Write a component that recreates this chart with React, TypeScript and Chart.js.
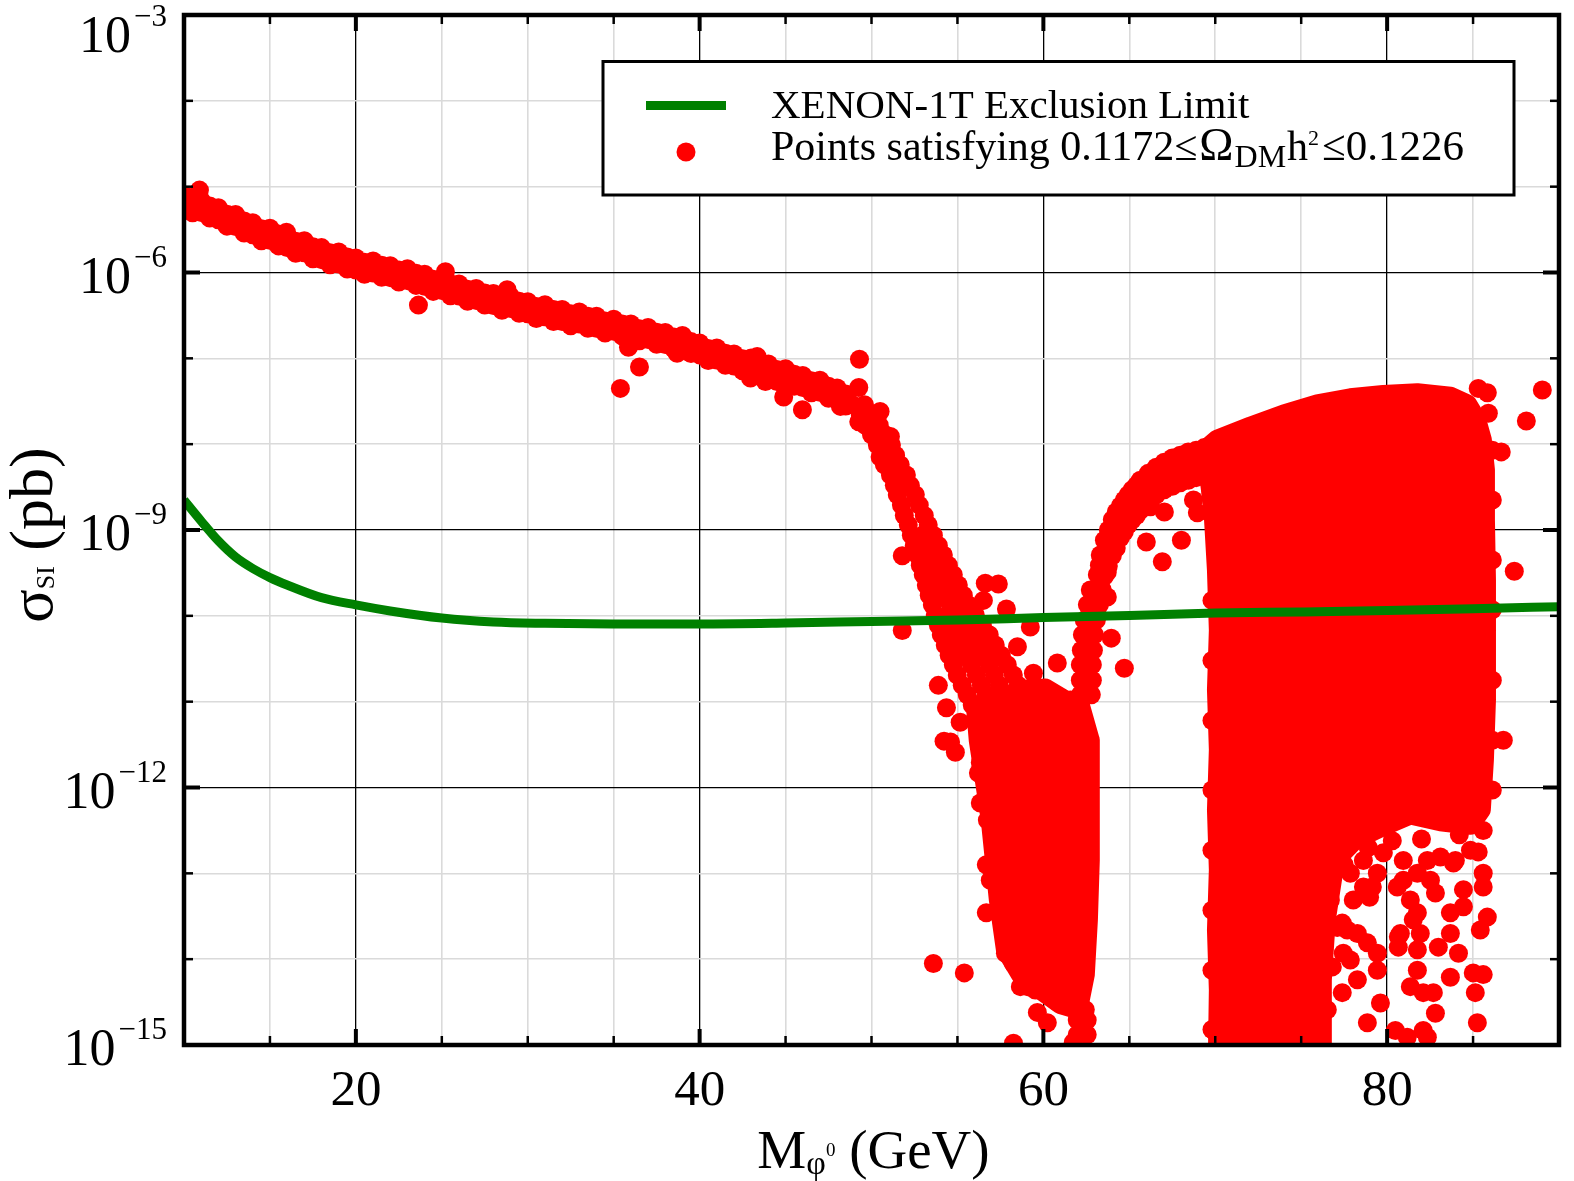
import React, { useEffect, useRef } from 'react';
import { Chart, registerables } from 'chart.js';

Chart.register(...registerables);

const FONT = "'Liberation Serif', 'Times New Roman', serif";

// ---------- axis ticks ----------
const xTickValues = [10, 15, 20, 25, 30, 35, 40, 45, 50, 55, 60, 65, 70, 75, 80, 85, 90];
const xLabelValues = [20, 40, 60, 80];
const yTickExponents = [-15, -14, -13, -12, -11, -10, -9, -8, -7, -6, -5, -4, -3];
const yLabelExponents = [-15, -12, -9, -6, -3];

// ---------- XENON-1T limit (mass GeV, sigma pb) ----------
const xenonMass = [10, 11, 12, 13, 14, 15, 16, 18, 20, 22, 25, 28, 31, 35, 40, 45, 50, 55, 60, 65, 70, 75, 80, 85, 90];
const xenonSigma = [2.23e-9, 1.27e-9, 7.45e-10, 4.84e-10, 3.56e-10, 2.79e-10, 2.29e-10, 1.63e-10, 1.34e-10, 1.14e-10, 9.42e-11, 8.47e-11, 8.18e-11, 8.04e-11, 8.04e-11, 8.24e-11, 8.59e-11, 8.93e-11, 9.55e-11, 1.01e-10, 1.08e-10, 1.11e-10, 1.15e-10, 1.21e-10, 1.28e-10];

// ---------- scan points: [mass GeV, log10(sigma_SI / pb)] ----------
const descendingBand: [number, number][] = [
  [10.0, -5.1], [10.0, -5.24], [10.5, -5.165], [10.5, -5.305], [11.0, -5.16], [11.0, -5.3], [11.5, -5.225], [11.5, -5.365],
  [12.0, -5.245], [12.0, -5.385], [12.5, -5.32], [12.5, -5.46], [13.0, -5.325], [13.0, -5.465], [13.5, -5.4], [13.5, -5.54],
  [14.0, -5.42], [14.0, -5.56], [14.5, -5.49], [14.5, -5.63], [15.0, -5.485], [15.0, -5.625], [15.5, -5.55], [15.5, -5.69],
  [16.0, -5.57], [16.0, -5.71], [16.5, -5.635], [16.5, -5.775], [17.0, -5.63], [17.0, -5.77], [17.5, -5.7], [17.5, -5.84],
  [18.0, -5.71], [18.0, -5.85], [18.5, -5.77], [18.5, -5.91], [19.0, -5.76], [19.0, -5.9], [19.5, -5.82], [19.5, -5.96],
  [20.0, -5.83], [20.0, -5.97], [20.5, -5.88], [20.5, -6.02], [21.0, -5.865], [21.0, -6.005], [21.5, -5.915], [21.5, -6.055],
  [22.0, -5.92], [22.0, -6.06], [22.5, -5.97], [22.5, -6.11], [23.0, -5.955], [23.0, -6.095], [23.5, -6.01], [23.5, -6.15],
  [24.0, -6.02], [24.0, -6.16], [24.5, -6.08], [24.5, -6.22], [25.0, -6.07], [25.0, -6.21], [25.5, -6.13], [25.5, -6.27],
  [26.0, -6.135], [26.0, -6.275], [26.5, -6.195], [26.5, -6.335], [27.0, -6.185], [27.0, -6.325], [27.5, -6.24], [27.5, -6.38],
  [28.0, -6.245], [28.0, -6.385], [28.5, -6.3], [28.5, -6.44], [29.0, -6.28], [29.0, -6.42], [29.5, -6.335], [29.5, -6.475],
  [30.0, -6.34], [30.0, -6.48], [30.5, -6.395], [30.5, -6.535], [31.0, -6.375], [31.0, -6.515], [31.5, -6.43], [31.5, -6.57],
  [32.0, -6.43], [32.0, -6.57], [32.5, -6.48], [32.5, -6.62], [33.0, -6.46], [33.0, -6.6], [33.5, -6.51], [33.5, -6.65],
  [34.0, -6.51], [34.0, -6.65], [34.5, -6.565], [34.5, -6.705], [35.0, -6.545], [35.0, -6.685], [35.5, -6.6], [35.5, -6.74],
  [36.0, -6.6], [36.0, -6.74], [36.5, -6.655], [36.5, -6.795], [37.0, -6.64], [37.0, -6.78], [37.5, -6.695], [37.5, -6.835],
  [38.0, -6.7], [38.0, -6.84], [38.5, -6.75], [38.5, -6.89], [39.0, -6.735], [39.0, -6.875], [39.5, -6.805], [39.5, -6.945],
  [40.0, -6.82], [40.0, -6.96], [40.5, -6.885], [40.5, -7.025], [41.0, -6.88], [41.0, -7.02], [41.5, -6.94], [41.5, -7.08],
  [42.0, -6.95], [42.0, -7.09], [42.5, -7.005], [42.5, -7.145], [43.0, -6.995], [43.0, -7.135], [43.5, -7.055], [43.5, -7.195],
  [44.0, -7.065], [44.0, -7.205], [44.5, -7.13], [44.5, -7.27], [45.0, -7.12], [45.0, -7.26], [45.5, -7.185], [45.5, -7.325],
  [46.0, -7.2], [46.0, -7.34], [46.5, -7.26], [46.5, -7.4], [47.0, -7.255], [47.0, -7.395], [47.5, -7.325], [47.5, -7.465],
  [48.0, -7.345], [48.0, -7.485], [48.5, -7.415], [48.5, -7.555],
];

const bandOutliers: [number, number][] = [
  [10.9, -5.04], [15.96, -5.53], [23.64, -6.38], [25.21, -5.99], [28.8, -6.2], [35.39, -7.35], [36.5, -7.1], [35.86, -6.87],
  [38.69, -6.94], [42.96, -7.23], [43.35, -6.98], [43.83, -7.27], [44.89, -7.45], [45.98, -7.6], [48.19, -7.56], [49.3, -7.01],
  [49.26, -7.34], [49.26, -7.74], [50.5, -7.62], [50.5, -8.15], [51.1, -7.91],
];

const steepBand: [number, number][] = [
  [48.89, -7.54], [49.59, -7.54], [49.35, -7.66], [50.05, -7.66], [49.64, -7.78], [50.45, -7.78], [50.0, -7.89], [50.8, -7.89],
  [50.34, -8.01], [51.16, -8.01], [50.57, -8.13], [51.4, -8.13], [50.75, -8.24], [51.67, -8.24], [51.1, -8.36], [52.03, -8.36],
  [51.33, -8.48], [52.26, -8.48], [51.5, -8.59], [52.55, -8.59], [51.74, -8.71], [52.78, -8.71], [51.91, -8.83], [53.07, -8.83],
  [52.14, -8.94], [53.3, -8.94],
  [52.32, -9.06], [52.96, -9.06], [53.6, -9.06], [52.49, -9.18], [53.19, -9.18], [53.89, -9.18],
  [52.67, -9.29], [53.42, -9.29], [54.18, -9.29], [52.84, -9.41], [53.66, -9.41], [54.47, -9.41],
  [53.01, -9.52], [53.89, -9.52], [54.76, -9.52], [53.19, -9.64], [54.12, -9.64], [55.05, -9.64],
  [53.36, -9.76], [54.35, -9.76], [55.34, -9.76], [53.54, -9.87], [54.58, -9.87], [55.63, -9.87],
  [53.71, -9.99], [54.47, -9.99], [55.28, -9.99], [56.04, -9.99],
  [53.89, -10.11], [54.76, -10.11], [55.57, -10.11], [56.45, -10.11],
  [54.06, -10.22], [54.99, -10.22], [55.92, -10.22], [56.85, -10.22],
  [54.29, -10.34], [55.28, -10.34], [56.21, -10.34], [57.2, -10.34],
  [54.52, -10.46], [55.51, -10.46], [56.56, -10.46], [57.55, -10.46],
  [54.76, -10.57], [55.81, -10.57], [56.85, -10.57], [57.9, -10.57],
  [54.99, -10.69], [56.1, -10.69], [57.15, -10.69], [58.25, -10.69],
  [55.28, -10.81], [56.39, -10.81], [57.44, -10.81], [58.54, -10.81],
  [55.57, -10.92], [56.68, -10.92], [57.73, -10.92], [58.83, -10.92],
  [55.86, -11.04], [56.97, -11.04], [58.02, -11.04], [59.13, -11.04],
];

const clusterDots: [number, number][] = [
  [51.79, -9.3], [51.79, -10.17], [56.62, -9.62], [57.38, -9.63], [56.51, -9.82], [57.85, -9.92], [59.24, -10.13], [58.49, -10.36],
  [60.81, -10.55], [61.57, -10.98], [53.89, -10.81], [54.36, -11.07], [55.16, -11.24], [59.42, -10.67], [60.4, -10.98], [61.16, -11.13],
  [54.22, -11.46], [54.6, -11.47], [54.88, -11.59], [56.22, -11.83], [56.33, -12.18], [56.91, -12.41], [56.68, -12.9], [56.68, -13.46],
  [57.79, -13.93], [53.6, -14.05], [55.4, -14.16], [58.26, -14.98], [59.65, -14.62], [60.23, -14.74], [61.74, -14.97], [62.32, -14.79],
  [62.44, -14.59], [60.81, -14.5], [61.86, -14.5], [58.66, -14.32], [59.53, -14.36], [56.33, -11.71], [56.74, -12.38], [56.91, -13.08],
  [57.5, -13.28], [57.9, -13.66], [58.26, -14.05], [59.07, -14.32],
];

// outline of the dense cluster at 56-63 GeV
const lowMassCluster: [number, number][] = [
  [56.04, -11.04], [57.5, -10.98], [58.66, -10.86], [60.11, -10.84], [61.28, -10.98], [62.15, -11.04], [62.73, -11.45],
  [62.73, -12.15], [62.73, -12.85], [62.62, -13.54], [62.44, -14.18], [62.03, -14.59], [60.99, -14.53], [59.82, -14.36],
  [58.66, -14.18], [57.79, -13.89], [57.38, -13.31], [57.15, -12.85], [56.91, -12.38], [56.56, -11.91], [56.21, -11.45],
];

const risingBranch: [number, number][] = [
  [61.97, -14.71], [62.55, -14.71], [61.97, -14.88], [62.55, -14.88],
  [62.73, -9.7], [63.43, -9.7], [62.56, -9.87], [63.26, -9.87], [62.38, -10.05], [63.08, -10.05], [62.27, -10.22], [62.97, -10.22],
  [62.21, -10.4], [62.91, -10.4], [62.15, -10.57], [62.85, -10.57], [62.15, -10.75], [62.85, -10.75], [62.15, -10.92], [62.79, -10.92],
  [62.97, -9.78], [62.79, -9.96], [62.68, -10.13], [62.56, -10.31], [62.5, -10.48], [62.5, -10.66], [62.5, -10.83],
  [63.14, -9.52], [63.26, -9.41],
  [63.72, -9.49], [63.72, -9.78],
  [63.31, -9.29], [63.31, -9.47], [63.31, -9.64], [63.78, -9.0], [63.78, -9.21], [63.78, -9.42],
  [63.55, -9.12], [63.55, -9.33], [63.55, -9.54], [64.01, -8.88], [64.01, -9.09], [64.01, -9.3],
  [64.24, -8.79], [64.24, -9.0], [64.24, -9.21], [64.71, -8.65], [64.71, -8.84], [64.71, -9.02],
  [64.48, -8.72], [64.48, -8.91], [64.48, -9.09], [64.94, -8.59], [64.94, -8.77], [64.94, -8.94],
  [65.17, -8.53], [65.17, -8.71], [65.17, -8.88], [65.64, -8.42], [65.64, -8.59], [65.64, -8.77],
  [65.41, -8.48], [65.41, -8.65], [65.41, -8.83],
  [66.1, -8.34], [66.1, -8.51], [66.1, -8.69], [66.57, -8.27], [66.57, -8.43], [66.57, -8.59],
  [67.03, -8.21], [67.03, -8.37], [67.03, -8.53], [67.5, -8.16], [67.5, -8.32], [67.5, -8.49],
  [67.96, -8.13], [67.96, -8.29], [67.96, -8.45], [68.43, -8.09], [68.43, -8.25], [68.43, -8.42],
  [68.89, -8.07], [68.89, -8.23], [68.89, -8.39], [69.36, -8.04], [69.36, -8.21], [69.36, -8.37],
];

const branchOutliers: [number, number][] = [
  [63.95, -10.26], [64.71, -10.61], [65.99, -9.14], [66.92, -9.37], [67.04, -8.79], [68.03, -9.12], [66.23, -8.73], [68.73, -8.65], [68.96, -8.8],
];

// outline of the dense plateau at 70-86 GeV
const plateauOutline: [number, number][] = [
  [69.42, -8.06], [70.12, -7.94], [72.04, -7.79], [73.96, -7.65], [75.94, -7.53], [77.86, -7.46], [79.78, -7.42], [81.76, -7.4],
  [83.68, -7.44], [84.67, -7.53], [85.19, -7.7], [85.54, -7.95], [85.72, -8.3], [85.72, -8.88], [85.78, -9.58], [85.78, -10.28],
  [85.78, -10.98], [85.66, -11.68], [85.48, -12.26], [84.85, -12.44], [83.1, -12.4], [81.35, -12.32], [79.61, -12.47], [78.15, -12.61],
  [76.99, -12.85], [76.46, -13.54], [76.23, -14.24], [76.23, -15.2], [70.12, -15.2], [70.18, -14.36], [70.07, -13.66], [70.18, -12.96],
  [70.07, -12.26], [70.18, -11.56], [70.07, -10.86], [70.18, -10.17], [70.07, -9.47], [69.9, -8.88], [69.72, -8.53],
];

const plateauEdgeDots: [number, number][] = [
  [69.81, -9.82], [69.81, -10.52], [69.81, -11.22], [69.81, -12.03], [69.81, -12.73], [69.81, -13.43], [69.81, -14.13], [69.81, -14.82],
  [86.12, -8.07], [86.12, -8.65], [86.12, -9.35], [86.12, -9.93], [86.12, -10.75], [86.12, -11.45], [86.12, -12.03],
  [85.3, -7.35], [85.83, -7.4], [85.89, -7.64], [70.0, -14.85], [70.87, -14.79], [71.63, -14.86],
  [89.03, -7.37], [88.1, -7.73], [86.64, -8.09], [87.4, -9.48], [86.76, -11.45],
];

const plateauSparse: [number, number][] = [
  [85.59, -12.5], [85.3, -12.75], [83.97, -12.85], [85.59, -13.0], [84.44, -13.19], [85.59, -13.16], [85.83, -13.51], [85.42, -13.66],
  [84.44, -13.39], [83.68, -13.46], [82.81, -13.23], [82.52, -13.08], [81.76, -13.0], [80.94, -13.08], [81.35, -13.31], [81.52, -13.54],
  [81.93, -13.7], [80.77, -13.7], [80.65, -13.86], [81.76, -13.89], [82.98, -13.86], [83.68, -13.7], [84.15, -13.93], [83.68, -14.21],
  [85.01, -14.16], [85.59, -14.18], [85.13, -14.39], [85.25, -14.74], [81.76, -14.13], [81.35, -14.32], [82.1, -14.39], [82.69, -14.39],
  [82.81, -14.63], [82.1, -14.83], [82.34, -14.91], [81.17, -14.91], [80.48, -14.83], [79.61, -14.51], [78.85, -14.74], [79.43, -14.13],
  [79.43, -13.93], [78.85, -13.81], [78.27, -13.7], [77.86, -14.01], [78.27, -14.24], [77.39, -14.39], [77.45, -13.93], [77.1, -13.63],
  [77.68, -13.66], [78.03, -13.31], [77.39, -13.58], [78.98, -13.28], [79.14, -13.16], [80.65, -13.74], [80.59, -13.16], [81.76, -13.46],
  [76.52, -14.59], [76.81, -14.09], [76.7, -13.31], [78.62, -13.16], [79.78, -12.76], [80.94, -12.85], [82.34, -12.85], [83.1, -12.81],
  [83.86, -12.88], [84.85, -12.73], [78.62, -12.85], [77.86, -13.0], [79.43, -13.0],
  [84.2, -12.55], [82.0, -12.6], [80.3, -12.62], [78.9, -12.7], [77.5, -12.9],
];

// ---------- texts ----------
const xenonLabel = 'XENON-1T Exclusion Limit';
const pointsLabelParts = ['Points satisfying 0.1172\u2264', '\u03A9', 'DM', 'h', '2', '\u22640.1226'];
const xTitleParts = ['M', '\u03C6', '0', ' (GeV)'];
const yTitleParts = ['\u03C3', 'SI', ' (pb)'];

type Run = { text: string; size: number; dy?: number; gap?: number };

function setFont(ctx: CanvasRenderingContext2D, size: number) {
  ctx.font = `${size}px ${FONT}`;
}
function runsWidth(ctx: CanvasRenderingContext2D, runs: Run[]) {
  let w = 0;
  for (const r of runs) {
    setFont(ctx, r.size);
    w += ctx.measureText(r.text).width + (r.gap || 0);
  }
  return w;
}
function drawRuns(ctx: CanvasRenderingContext2D, runs: Run[], x: number, y: number) {
  let cx = x;
  for (const r of runs) {
    setFont(ctx, r.size);
    ctx.fillText(r.text, cx, y + (r.dy || 0));
    cx += ctx.measureText(r.text).width + (r.gap || 0);
  }
}

const toPts = (arr: [number, number][]) => arr.map(([m, l]) => ({ x: m, y: Math.pow(10, l) }));
const closed = (arr: [number, number][]) => [...arr, arr[0]];

const decorPlugin = {
  id: 'decor',
  beforeDraw(chart: any) {
    const ctx = chart.ctx as CanvasRenderingContext2D;
    ctx.save();
    ctx.fillStyle = '#ffffff';
    ctx.fillRect(0, 0, chart.width, chart.height);
    ctx.restore();
  },
  afterDraw(chart: any) {
    const ctx = chart.ctx as CanvasRenderingContext2D;
    const a = chart.chartArea;
    const xs = chart.scales.x;
    const ys = chart.scales.y;
    ctx.save();
    ctx.strokeStyle = '#000';
    ctx.fillStyle = '#000';
    ctx.lineCap = 'butt';
    const seg = (x1: number, y1: number, x2: number, y2: number) => {
      ctx.beginPath();
      ctx.moveTo(x1, y1);
      ctx.lineTo(x2, y2);
      ctx.stroke();
    };
    // x ticks (inside, top and bottom)
    for (const v of xTickValues) {
      if (v <= xTickValues[0] || v >= xTickValues[xTickValues.length - 1]) continue;
      const major = xLabelValues.includes(v);
      const len = major ? 16 : 9;
      ctx.lineWidth = major ? 4 : 2.5;
      const px = xs.getPixelForValue(v);
      seg(px, a.bottom, px, a.bottom - len);
      seg(px, a.top, px, a.top + len);
    }
    // y ticks (inside, left and right)
    for (const e of yTickExponents) {
      const major = yLabelExponents.includes(e);
      const len = major ? 16 : 9;
      ctx.lineWidth = major ? 4 : 2.5;
      const py = ys.getPixelForValue(Math.pow(10, e));
      seg(a.left, py, a.left + len, py);
      seg(a.right, py, a.right - len, py);
    }
    // frame
    ctx.lineWidth = 4.5;
    ctx.strokeRect(a.left, a.top, a.right - a.left, a.bottom - a.top);

    // x tick labels
    ctx.textBaseline = 'alphabetic';
    ctx.textAlign = 'center';
    setFont(ctx, 51);
    for (const v of xLabelValues) {
      ctx.fillText(String(v), xs.getPixelForValue(v), a.bottom + 60);
    }
    // y tick labels 10^-n
    ctx.textAlign = 'left';
    for (const e of yLabelExponents) {
      const py = ys.getPixelForValue(Math.pow(10, e));
      const base = Math.max(py + 20, 52);
      const sup = '\u2212' + Math.abs(e);
      setFont(ctx, 52);
      const w10 = ctx.measureText('10').width;
      setFont(ctx, 31);
      const ws = ctx.measureText(sup).width;
      const right = a.left - 17;
      setFont(ctx, 52);
      ctx.fillText('10', right - ws - 3 - w10, base);
      setFont(ctx, 31);
      ctx.fillText(sup, right - ws, base - 26);
    }
    // x title
    const xRuns: Run[] = [
      { text: xTitleParts[0], size: 55 },
      { text: xTitleParts[1], size: 34, dy: 6 },
      { text: xTitleParts[2], size: 19, dy: -12 },
      { text: xTitleParts[3], size: 55 },
    ];
    const xw = runsWidth(ctx, xRuns);
    drawRuns(ctx, xRuns, (a.left + a.right) / 2 + 2 - xw / 2, 1168);
    // y title (rotated)
    const yRuns: Run[] = [
      { text: yTitleParts[0], size: 62 },
      { text: yTitleParts[1], size: 26, dy: 2 },
      { text: yTitleParts[2], size: 62 },
    ];
    const yw = runsWidth(ctx, yRuns);
    ctx.save();
    ctx.translate(52, 535);
    ctx.rotate(-Math.PI / 2);
    drawRuns(ctx, yRuns, -yw / 2, 0);
    ctx.restore();

    // legend
    const lx = 603, ly = 61.5, lw = 911, lh = 133.5;
    ctx.fillStyle = '#ffffff';
    ctx.fillRect(lx, ly, lw, lh);
    ctx.lineWidth = 3;
    ctx.strokeStyle = '#000';
    ctx.strokeRect(lx, ly, lw, lh);
    ctx.strokeStyle = '#008000';
    ctx.lineWidth = 9;
    seg(646, 105.5, 726, 105.5);
    ctx.fillStyle = '#ff0000';
    ctx.beginPath();
    ctx.arc(686, 152, 9.5, 0, Math.PI * 2);
    ctx.fill();
    ctx.fillStyle = '#000';
    setFont(ctx, 41);
    ctx.fillText(xenonLabel, 771, 118);
    drawRuns(
      ctx,
      [
        { text: pointsLabelParts[0], size: 42, gap: 2 },
        { text: pointsLabelParts[1], size: 46, gap: 1 },
        { text: pointsLabelParts[2], size: 32, dy: 7, gap: 1 },
        { text: pointsLabelParts[3], size: 42 },
        { text: pointsLabelParts[4], size: 22, dy: -15, gap: 3 },
        { text: pointsLabelParts[5], size: 43 },
      ],
      771,
      160
    );
    ctx.restore();
  },
};

export default function App() {
  const ref = useRef<HTMLCanvasElement | null>(null);
  useEffect(() => {
    if (!ref.current) return;
    const allDots = [
      ...descendingBand,
      ...bandOutliers,
      ...steepBand,
      ...clusterDots,
      ...risingBranch,
      ...branchOutliers,
      ...plateauEdgeDots,
      ...plateauSparse,
    ];
    const chart = new Chart(ref.current, {
      type: 'scatter',
      data: {
        datasets: [
          {
            label: xenonLabel,
            data: xenonMass.map((m, i) => ({ x: m, y: xenonSigma[i] })),
            showLine: true,
            borderColor: '#008000',
            backgroundColor: '#008000',
            borderWidth: 9,
            pointRadius: 0,
            tension: 0.4,
            cubicInterpolationMode: 'monotone',
            fill: false,
            clip: 0,
          } as any,
          {
            label: 'points',
            data: toPts(allDots),
            backgroundColor: '#ff0000',
            borderColor: '#ff0000',
            borderWidth: 0,
            pointRadius: 9.5,
            clip: 0,
          } as any,
          {
            label: 'cluster',
            data: toPts(closed(lowMassCluster)),
            showLine: true,
            fill: 'shape',
            backgroundColor: '#ff0000',
            borderColor: '#ff0000',
            borderWidth: 19,
            borderJoinStyle: 'round',
            borderCapStyle: 'round',
            pointRadius: 0,
            clip: 0,
          } as any,
          {
            label: 'plateau',
            data: toPts(closed(plateauOutline)),
            showLine: true,
            fill: 'shape',
            backgroundColor: '#ff0000',
            borderColor: '#ff0000',
            borderWidth: 19,
            borderJoinStyle: 'round',
            borderCapStyle: 'round',
            pointRadius: 0,
            clip: 0,
          } as any,
        ],
      },
      options: {
        responsive: false,
        animation: false,
        devicePixelRatio: 1,
        events: [],
        layout: { padding: { left: 184, right: 15, top: 15, bottom: 136 } },
        plugins: { legend: { display: false }, tooltip: { enabled: false } },
        scales: {
          x: {
            type: 'linear',
            min: xTickValues[0],
            max: xTickValues[xTickValues.length - 1],
            ticks: { display: false, stepSize: 5 },
            border: { display: false },
            grid: {
              drawTicks: false,
              color: (c: any) => (xLabelValues.includes(c.tick.value) ? '#000000' : '#dadada'),
              lineWidth: (c: any) => (xLabelValues.includes(c.tick.value) ? 1.3 : 1.6),
            },
          },
          y: {
            type: 'logarithmic',
            min: Math.pow(10, yTickExponents[0]),
            max: Math.pow(10, yTickExponents[yTickExponents.length - 1]),
            afterBuildTicks: (s: any) => {
              s.ticks = yTickExponents.map((e) => ({ value: Math.pow(10, e) }));
            },
            ticks: { display: false },
            border: { display: false },
            grid: {
              drawTicks: false,
              color: (c: any) =>
                yLabelExponents.includes(Math.round(Math.log10(c.tick.value))) ? '#000000' : '#dadada',
              lineWidth: (c: any) =>
                yLabelExponents.includes(Math.round(Math.log10(c.tick.value))) ? 1.3 : 1.6,
            },
          },
        },
      } as any,
      plugins: [decorPlugin as any],
    });
    return () => chart.destroy();
  }, []);
  return (
    <div style={{ position: 'fixed', left: 0, top: 0, width: 1574, height: 1181, background: '#fff' }}>
      <canvas ref={ref} width={1574} height={1181} style={{ display: 'block', width: 1574, height: 1181 }} />
    </div>
  );
}
